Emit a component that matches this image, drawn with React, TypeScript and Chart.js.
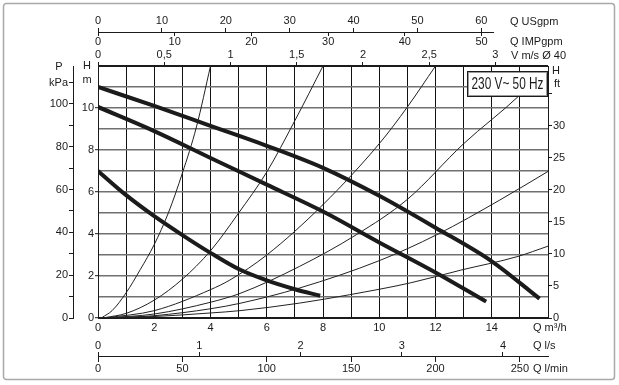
import React, { useEffect, useRef } from 'react';
import { Chart, registerables } from 'chart.js';

Chart.register(...registerables);

const FONT = "'Liberation Sans', Arial, Helvetica, sans-serif";
const INK = '#1b1b1b';
const GRID_H = '#707070';

// ---------- data (Q in m³/h, H in m) ----------
const pumpHighQ = [0, 2, 4, 6, 8, 10, 12, 14, 15.7];
const pumpHighH = [11.0, 10.1, 9.15, 8.2, 7.15, 5.82, 4.3, 2.7, 0.92];
const pumpMidQ = [0, 2, 4, 6, 8, 10, 12, 13.8];
const pumpMidH = [10.05, 8.9, 7.62, 6.35, 5.07, 3.6, 2.17, 0.78];
const pumpLowQ = [0, 1, 2, 3, 4, 5, 6, 7, 7.9];
const pumpLowH = [7.0, 5.85, 4.85, 3.95, 3.1, 2.33, 1.79, 1.37, 1.06];

const sysAQ = [0.15, 0.5, 1, 1.5, 2, 2.5, 3, 3.5, 4];
const sysAH = [0.03, 0.35, 1.2, 2.3, 3.5, 5.0, 6.9, 9.1, 12];
const sysBQ = [0.25, 1, 2, 3, 4, 5, 6, 7, 8];
const sysBH = [0.02, 0.22, 0.85, 1.85, 3.2, 5.0, 6.95, 9.4, 12];
const sysCQ = [0.3, 2, 4, 4.69, 6, 8, 10, 11, 12];
const sysCH = [0.01, 0.35, 1.35, 1.81, 3.0, 5.4, 8.3, 10.05, 12];
const sysDQ = [0.35, 2, 4, 5.05, 7.17, 9.19, 11, 13, 15, 15.7];
const sysDH = [0.01, 0.19, 0.75, 1.17, 2.46, 3.97, 5.65, 8.3, 10.62, 11.6];
const sysEQ = [0.4, 2, 4, 5.05, 7.17, 10, 12.05, 14.29, 16];
const sysEH = [0.01, 0.11, 0.44, 0.7, 1.43, 2.73, 3.97, 5.62, 6.98];
const sysFQ = [0.45, 2, 4, 5.05, 7.17, 8.95, 11.1, 12.9, 14.9, 16];
const sysFH = [0.01, 0.07, 0.24, 0.35, 0.71, 1.11, 1.67, 2.28, 2.92, 3.42];

// ---------- axes ----------
const Q_MAX = 16; // m³/h
const H_MAX = 12; // m
const USGPM_PER_M3H = 4.403;
const IMPGPM_PER_M3H = 3.666;
const M3H_PER_MS = 4.71; // velocity in Ø40 pipe
const LS_PER_M3H = 1 / 3.6;
const LMIN_PER_M3H = 1000 / 60;
const KPA_PER_M = 9.81;
const FT_PER_M = 1 / 0.3048;

const qM3hLabels = [0, 2, 4, 6, 8, 10, 12, 14];
const hMLabels = [0, 2, 4, 6, 8, 10];
const pKpaLabels = [0, 20, 40, 60, 80, 100];
const hFtLabels = [0, 5, 10, 15, 20, 25, 30];
const usGpmLabels = [0, 10, 20, 30, 40, 50, 60];
const impGpmLabels = [0, 10, 20, 30, 40, 50];
const velLabels = [0, 0.5, 1, 1.5, 2, 2.5, 3];
const lsLabels = [0, 1, 2, 3, 4];
const lminLabels = [0, 50, 100, 150, 200, 250];

const boxText = '230 V~ 50 Hz';

const near = (list: number[], v: number) => list.some((x) => Math.abs(x - v) < 1e-6);
const toPts = (q: number[], h: number[]) => q.map((x, i) => ({ x, y: h[i] }));

const thick = (q: number[], h: number[]) => ({
  data: toPts(q, h),
  borderColor: INK,
  borderWidth: 4,
  pointRadius: 0,
  fill: false,
  cubicInterpolationMode: 'monotone' as const,
});
const thin = (q: number[], h: number[]) => ({
  data: toPts(q, h),
  borderColor: '#222',
  borderWidth: 1,
  pointRadius: 0,
  fill: false,
  cubicInterpolationMode: 'monotone' as const,
});

const tickFont = { family: FONT, size: 11 };

const decor = {
  id: 'decor',
  beforeDraw(chart: any) {
    const { ctx, width, height } = chart;
    ctx.save();
    ctx.fillStyle = '#fff';
    ctx.fillRect(0, 0, width, height);
    ctx.strokeStyle = '#a9a9a9';
    ctx.lineWidth = 1.5;
    ctx.beginPath();
    (ctx as any).roundRect(3.5, 3.5, 611, 376, 3);
    ctx.stroke();
    ctx.restore();
  },
  afterDraw(chart: any) {
    const { ctx, chartArea: a, scales } = chart;
    ctx.save();
    // top shared line of the USgpm / IMPgpm scales
    ctx.strokeStyle = INK;
    ctx.lineWidth = 1;
    ctx.beginPath();
    ctx.moveTo(a.left, 32.5);
    ctx.lineTo(scales.xUS.getPixelForValue(62), 32.5);
    ctx.stroke();

    ctx.fillStyle = INK;
    ctx.font = `11px ${FONT}`;
    ctx.textBaseline = 'middle';
    ctx.textAlign = 'center';
    ctx.fillText('P', 59, 67);
    ctx.fillText('H', 87, 66);
    ctx.fillText('m', 87, 80);
    ctx.textAlign = 'left';
    ctx.fillText('H', 552, 71);
    ctx.fillText('ft', 554, 84);
    ctx.fillText('Q USgpm', 510, 22);
    ctx.fillText('Q IMPgpm', 510, 42);
    ctx.fillText('V m/s Ø 40', 511, 56);
    ctx.fillText('Q m³/h', 533, 328);
    ctx.fillText('Q l/s', 533, 346);
    ctx.fillText('Q l/min', 533, 369);

    // "230 V~ 50 Hz" box
    const bx = 467, by = 71, bw = 81, bh = 26;
    ctx.fillStyle = '#fff';
    ctx.fillRect(bx, by, bw, bh);
    ctx.strokeStyle = '#9c9c9c';
    ctx.lineWidth = 1;
    ctx.strokeRect(bx + 1.5, by + 1.5, bw - 3, bh - 3);
    ctx.strokeStyle = INK;
    ctx.strokeRect(bx + 0.5, by + 0.5, bw - 1, bh - 1);
    ctx.fillStyle = INK;
    ctx.font = `16px ${FONT}`;
    ctx.textAlign = 'left';
    const w = ctx.measureText(boxText).width;
    const target = 72;
    ctx.translate(bx + (bw - target) / 2, by + bh / 2 + 1);
    ctx.scale(target / w, 1);
    ctx.fillText(boxText, 0, 0);
    ctx.restore();
  },
};

export default function App() {
  const ref = useRef<HTMLCanvasElement>(null);
  useEffect(() => {
    const canvas = ref.current;
    if (!canvas) return;
    Chart.defaults.font.family = FONT;
    Chart.defaults.font.size = 11;
    Chart.defaults.color = INK;

    const hidden = 'rgba(0,0,0,0)';
    const chart = new Chart(canvas, {
      type: 'line',
      data: {
        datasets: [
          thin(sysAQ, sysAH),
          thin(sysBQ, sysBH),
          thin(sysCQ, sysCH),
          thin(sysDQ, sysDH),
          thin(sysEQ, sysEH),
          thin(sysFQ, sysFH),
          thick(pumpHighQ, pumpHighH),
          thick(pumpMidQ, pumpMidH),
          thick(pumpLowQ, pumpLowH),
        ] as any,
      },
      options: {
        animation: false,
        responsive: false,
        maintainAspectRatio: false,
        events: [],
        layout: { padding: 0 },
        plugins: { legend: { display: false }, tooltip: { enabled: false } },
        elements: { point: { radius: 0 } },
        scales: {
          x: {
            type: 'linear',
            position: 'bottom',
            min: 0,
            max: Q_MAX,
            afterFit: (s: any) => { s.height = 67; },
            grid: { color: '#111', lineWidth: 1, drawTicks: false },
            border: { color: INK, width: 1 },
            ticks: {
              stepSize: 1, autoSkip: false, maxRotation: 0, padding: 3, includeBounds: false,
              font: tickFont, color: INK,
              callback: (v: any) => (near(qM3hLabels, v) ? String(v) : ''),
            },
          },
          y: {
            type: 'linear',
            position: 'left',
            min: 0,
            max: H_MAX,
            afterFit: (s: any) => { s.width = 25; },
            grid: {
              color: (c: any) => (c.tick && (c.tick.value === 0 || c.tick.value === H_MAX) ? INK : GRID_H),
              lineWidth: 1.4,
              drawTicks: true,
              tickLength: 3,
              tickColor: (c: any) => (c.tick && near(hMLabels, c.tick.value) ? INK : hidden),
              tickWidth: 1,
            },
            border: { color: INK, width: 1 },
            ticks: {
              stepSize: 1, autoSkip: false, padding: 1, includeBounds: false,
              font: tickFont, color: INK,
              callback: (v: any) => (near(hMLabels, v) ? String(v) : ''),
            },
          },
          yP: {
            type: 'linear',
            position: 'left',
            weight: 1,
            min: 0,
            max: H_MAX * KPA_PER_M,
            afterFit: (s: any) => { s.width = 73; },
            grid: { drawOnChartArea: false, drawTicks: true, tickLength: 4, tickColor: INK, tickWidth: 1 },
            border: { color: INK, width: 1 },
            ticks: {
              stepSize: 10, autoSkip: false, padding: 1, includeBounds: false,
              font: tickFont, color: INK,
              callback: (v: any) => (Math.abs(v - 110) < 1e-6 ? 'kPa' : near(pKpaLabels, v) ? String(v) : ''),
            },
          },
          yFt: {
            type: 'linear',
            position: 'right',
            min: 0,
            max: H_MAX * FT_PER_M,
            afterFit: (s: any) => { s.width = 71; },
            grid: { drawOnChartArea: false, drawTicks: true, tickLength: 4, tickColor: INK, tickWidth: 1 },
            border: { color: INK, width: 1 },
            ticks: {
              stepSize: 5, autoSkip: false, padding: 1, includeBounds: false,
              font: tickFont, color: INK,
              callback: (v: any) => (near(hFtLabels, v) ? String(v) : ''),
            },
          },
          xV: {
            type: 'linear',
            position: 'top',
            weight: 0,
            min: 0,
            max: Q_MAX / M3H_PER_MS,
            afterFit: (s: any) => { s.height = 34; },
            grid: { drawOnChartArea: false, drawTicks: true, tickLength: 4, tickColor: INK, tickWidth: 1 },
            border: { color: INK, width: 1 },
            ticks: {
              stepSize: 0.5, autoSkip: false, maxRotation: 0, padding: 0, includeBounds: false,
              font: tickFont, color: INK,
              callback: (v: any) => (near(velLabels, v) ? String(v).replace('.', ',') : ''),
            },
          },
          xUS: {
            type: 'linear',
            position: 'top',
            weight: 1,
            min: 0,
            max: Q_MAX * USGPM_PER_M3H,
            afterFit: (s: any) => { s.height = 32; },
            grid: {
              drawOnChartArea: false, drawTicks: true, tickLength: 4, tickWidth: 1,
              tickColor: (c: any) => (c.tick && near(usGpmLabels, c.tick.value) ? INK : hidden),
            },
            border: { display: false },
            ticks: {
              stepSize: 10, autoSkip: false, maxRotation: 0, padding: 0, includeBounds: false,
              font: tickFont, color: INK,
              callback: (v: any) => (near(usGpmLabels, v) ? String(v) : ''),
            },
          },
          xIMP: {
            type: 'linear',
            position: { y: 13.62 } as any,
            min: 0,
            max: Q_MAX * IMPGPM_PER_M3H,
            grid: { drawOnChartArea: false, drawTicks: true, tickLength: 4, tickColor: INK, tickWidth: 1 },
            border: { display: false },
            ticks: {
              stepSize: 10, autoSkip: false, maxRotation: 0, padding: -1, includeBounds: false,
              font: tickFont, color: INK,
              callback: (v: any) => (near(impGpmLabels, v) ? String(v) : ''),
            },
          },
          xLs: {
            type: 'linear',
            position: { y: -1.62 } as any,
            min: 0,
            max: Q_MAX * LS_PER_M3H,
            grid: { drawOnChartArea: false, drawTicks: true, tickLength: 5, tickColor: INK, tickWidth: 1 },
            border: { display: false },
            ticks: {
              stepSize: 1, autoSkip: false, maxRotation: 0, padding: -4, mirror: true, includeBounds: false,
              font: tickFont, color: INK,
              callback: (v: any) => (near(lsLabels, v) ? String(v) : ''),
            },
          },
          xLmin: {
            type: 'linear',
            position: { y: -1.857 } as any,
            min: 0,
            max: Q_MAX * LMIN_PER_M3H,
            grid: { drawOnChartArea: false, drawTicks: true, tickLength: 5, tickColor: INK, tickWidth: 1 },
            border: { color: INK, width: 1 },
            ticks: {
              stepSize: 50, autoSkip: false, maxRotation: 0, padding: 0, includeBounds: false,
              font: tickFont, color: INK,
              callback: (v: any) => (near(lminLabels, v) ? String(v) : ''),
            },
          },
        } as any,
      },
      plugins: [decor],
    });
    return () => chart.destroy();
  }, []);

  return (
    <div style={{ position: 'absolute', left: 0, top: 0, width: 619, height: 385, background: '#fff' }}>
      <canvas ref={ref} width={619} height={385} style={{ display: 'block', width: 619, height: 385 }} />
    </div>
  );
}
